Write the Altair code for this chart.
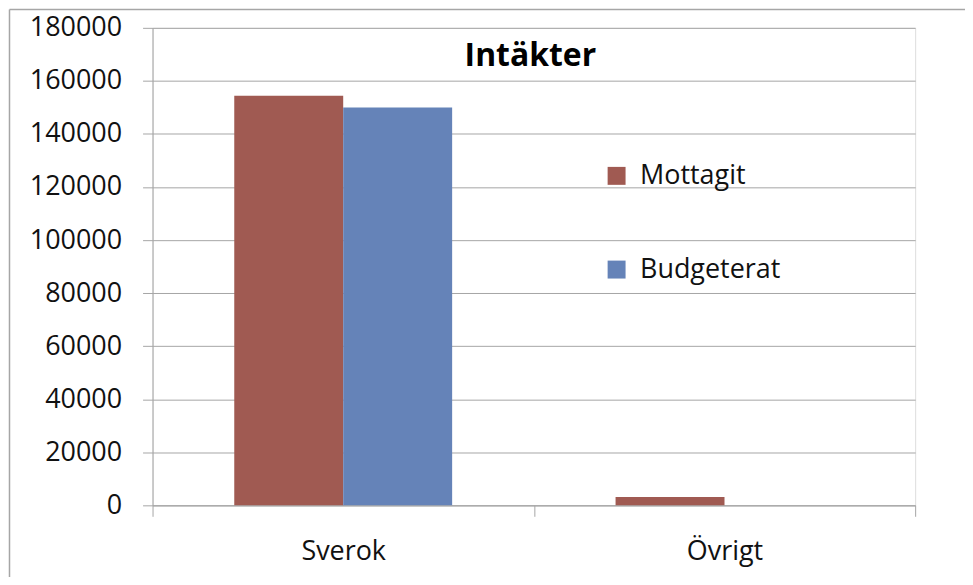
import altair as alt
import pandas as pd

categories = ["Sverok", "Övrigt"]
series = ["Mottagit", "Budgeterat"]
mottagit = [154400, 3100]
budgeterat = [150000, 0]
y_ticks = [0, 20000, 40000, 60000, 80000, 100000, 120000, 140000, 160000, 180000]
colors = ["#A05A52", "#6583B8"]
chart_title = "Intäkter"

rows = []
for i, c in enumerate(categories):
    rows.append({"Kategori": c, "Serie": series[0], "Belopp": mottagit[i]})
    rows.append({"Kategori": c, "Serie": series[1], "Belopp": budgeterat[i]})
df = pd.DataFrame(rows)

W, H = 765, 479
FONT = "Open Sans"
GRAY = "#A6A6A6"

bars = alt.Chart(df).mark_bar().encode(
    x=alt.X("Kategori:N", sort=categories, title=None,
            scale=alt.Scale(paddingInner=0, paddingOuter=0),
            axis=alt.Axis(labelAngle=0, tickBand="extent", tickSize=11,
                          labelPadding=22, domainColor=GRAY, tickColor=GRAY,
                          labelFont=FONT, labelFontSize=27, labelColor="#111111",
                          grid=False)),
    xOffset=alt.XOffset("Serie:N", sort=series,
                        scale=alt.Scale(paddingInner=0, paddingOuter=0.75)),
    y=alt.Y("Belopp:Q", title=None,
            scale=alt.Scale(domain=[0, 180000], nice=False),
            axis=alt.Axis(values=y_ticks, format="d", tickSize=10, labelPadding=21,
                          domainColor=GRAY, tickColor=GRAY, gridColor=GRAY,
                          labelFont=FONT, labelFontSize=27, labelColor="#111111")),
    color=alt.Color("Serie:N", sort=series,
                    scale=alt.Scale(domain=series, range=colors),
                    legend=alt.Legend(title=None, orient="none", legendX=452, legendY=135,
                                      symbolType="square", symbolSize=324,
                                      symbolStrokeWidth=0, labelOffset=10,
                                      labelFont=FONT, labelFontSize=27,
                                      labelColor="#111111", rowPadding=66,
                                      padding=0)),
)

one = pd.DataFrame({"t": [chart_title]})
title = alt.Chart(one).mark_text(font=FONT, fontSize=32, fontWeight="bold",
                                 baseline="alphabetic", align="center",
                                 color="#000000").encode(
    text="t:N", x=alt.value(379), y=alt.value(38))

top_line = alt.Chart(one).mark_rule(stroke=GRAY, strokeWidth=1.5).encode(
    x=alt.value(-143.5), x2=alt.value(W + 100), y=alt.value(-18.5))
left_line = alt.Chart(one).mark_rule(stroke=GRAY, strokeWidth=1.5).encode(
    x=alt.value(-143.5), y=alt.value(-18.5), y2=alt.value(H + 100))

chart = alt.layer(top_line, left_line, bars, title).properties(
    width=W, height=H,
    autosize=alt.AutoSizeParams(type="none"),
    padding={"left": 145, "top": 19, "right": 50, "bottom": 71},
).configure_view(strokeWidth=0).configure(background="white")

chart.save("out.html", embed_options={"renderer": "svg", "actions": False})
